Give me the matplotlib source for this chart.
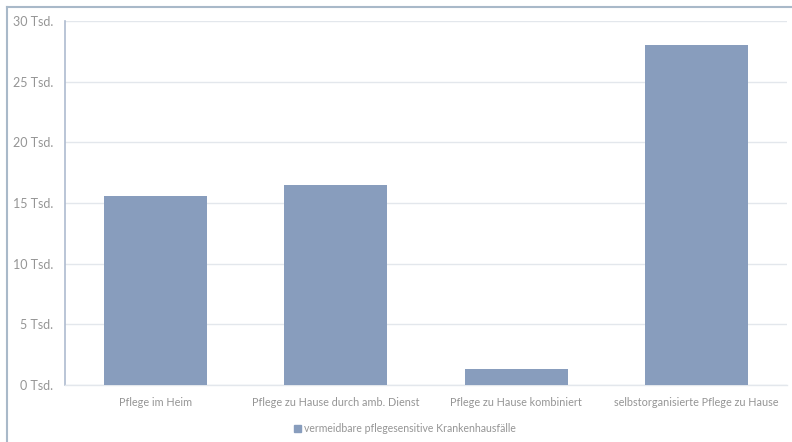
import matplotlib.pyplot as plt
from matplotlib.lines import Line2D
from matplotlib.patches import Patch

categories = ["Pflege im Heim", "Pflege zu Hause durch amb. Dienst",
              "Pflege zu Hause kombiniert", "selbstorganisierte Pflege zu Hause"]
values = [15.6, 16.5, 1.3, 28.0]  # Tsd.
yticks = [0, 5, 10, 15, 20, 25, 30]
ytick_labels = [f"{v} Tsd." for v in yticks]
series_name = "vermeidbare pflegesensitive Krankenhausfälle"

bar_color = "#889dbd"
text_color = "#959595"
grid_color = "#e3e7ec"

plt.rcParams['font.family'] = ['Lato', 'DejaVu Sans']

fig = plt.figure(figsize=(7.92, 4.42), dpi=100)

# outer frame (top and left edge)
fig.add_artist(Line2D([7/792, 7/792], [0, 1 - 7/442], color="#a9b9c9", lw=1.5))
fig.add_artist(Line2D([7/792, 1], [1 - 7/442, 1 - 7/442], color="#a9b9c9", lw=1.5))

ax = fig.add_axes([65/792, 1 - 385/442, (787 - 65)/792, (385 - 21)/442])
x = list(range(len(categories)))
ax.bar(x, values, width=0.57, color=bar_color, zorder=3)

ax.set_xlim(-0.5, 3.5)
ax.set_ylim(0, 30)
ax.set_yticks(yticks)
ax.set_yticklabels(ytick_labels)
ax.set_xticks(x)
ax.set_xticklabels(categories)
ax.grid(axis="y", color=grid_color, lw=1, zorder=0)
ax.tick_params(axis="both", length=0, colors=text_color)
ax.tick_params(axis="y", pad=8.5, labelsize=9)
ax.tick_params(axis="x", pad=9, labelsize=7.8)
for s in ["top", "right"]:
    ax.spines[s].set_visible(False)
ax.spines["left"].set_color("#aebbcf")
ax.spines["left"].set_linewidth(1.2)
ax.spines["bottom"].set_color(grid_color)
ax.spines["bottom"].set_linewidth(1)

fig.legend(handles=[Patch(color=bar_color, label=series_name)],
           loc="center", bbox_to_anchor=(405/792, 1 - 429/442), frameon=False,
           fontsize=7.6, labelcolor=text_color, handlelength=0.6, handleheight=0.6,
           handletextpad=0.3)

fig.savefig("out.png", dpi=100)
